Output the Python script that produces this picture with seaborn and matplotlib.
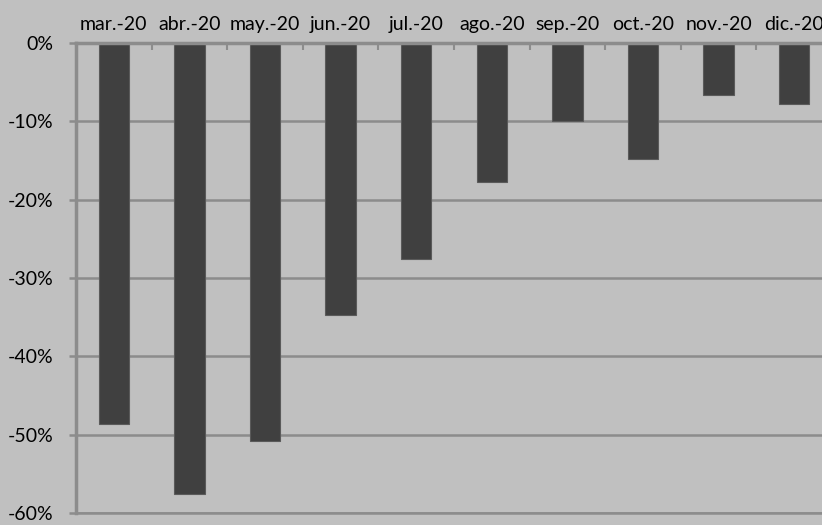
import matplotlib
matplotlib.use("Agg")
import matplotlib.pyplot as plt
import seaborn as sns
import pandas as pd
from matplotlib.ticker import FuncFormatter, FixedLocator

months = ["mar.-20", "abr.-20", "may.-20", "jun.-20", "jul.-20",
          "ago.-20", "sep.-20", "oct.-20", "nov.-20", "dic.-20"]
values = [-48.7, -57.6, -50.8, -34.7, -27.6, -17.7, -10.0, -14.8, -6.6, -7.8]
yticks = [0, -10, -20, -30, -40, -50, -60]

df = pd.DataFrame({"mes": months, "valor": values})

sns.set_theme(style="white")
plt.rcParams["font.family"] = ["Lato", "DejaVu Sans"]

bg = "#c0c0c0"
grid = "#8c8c8c"
fig = plt.figure(figsize=(8.22, 5.25), dpi=100, facecolor=bg)
ax = fig.add_axes([76 / 822, 1 - 513 / 525, 756 / 822, 470 / 525])
ax.set_facecolor(bg)

sns.barplot(data=df, x="mes", y="valor", color="#404040", width=0.4,
            saturation=1, edgecolor="#5a5a5a", linewidth=0.8, ax=ax, zorder=3)

ax.set_ylim(-60, 0)
ax.set_xlim(-0.5, len(months) - 0.5)
ax.set_yticks(yticks)
ax.yaxis.set_major_formatter(FuncFormatter(lambda v, p: f"{int(round(v))}%"))
ax.yaxis.grid(True, color=grid, linewidth=1.8, zorder=1)
ax.set_axisbelow(True)

ax.xaxis.tick_top()
ax.set_xticks(range(len(months)))
ax.set_xticklabels(months)
ax.xaxis.set_minor_locator(FixedLocator([i + 0.5 for i in range(len(months))]))
ax.tick_params(axis="x", which="major", length=0, pad=7, labelsize=14, colors="black")
ax.tick_params(axis="x", which="minor", top=True, bottom=False, direction="in",
               length=5, width=1.5, color=grid)
ax.tick_params(axis="y", which="major", left=True, direction="out", length=5,
               width=1.8, color=grid, pad=11, labelsize=14, labelcolor="black")
ax.set_xlabel("")
ax.set_ylabel("")

ax.spines["right"].set_visible(False)
for side in ["left", "top", "bottom"]:
    ax.spines[side].set_color(grid)
    ax.spines[side].set_zorder(4)
ax.spines["left"].set_linewidth(2.5)
ax.spines["top"].set_linewidth(2.5)
ax.spines["bottom"].set_linewidth(1.8)

fig.savefig("out.png", dpi=100, facecolor=bg)
